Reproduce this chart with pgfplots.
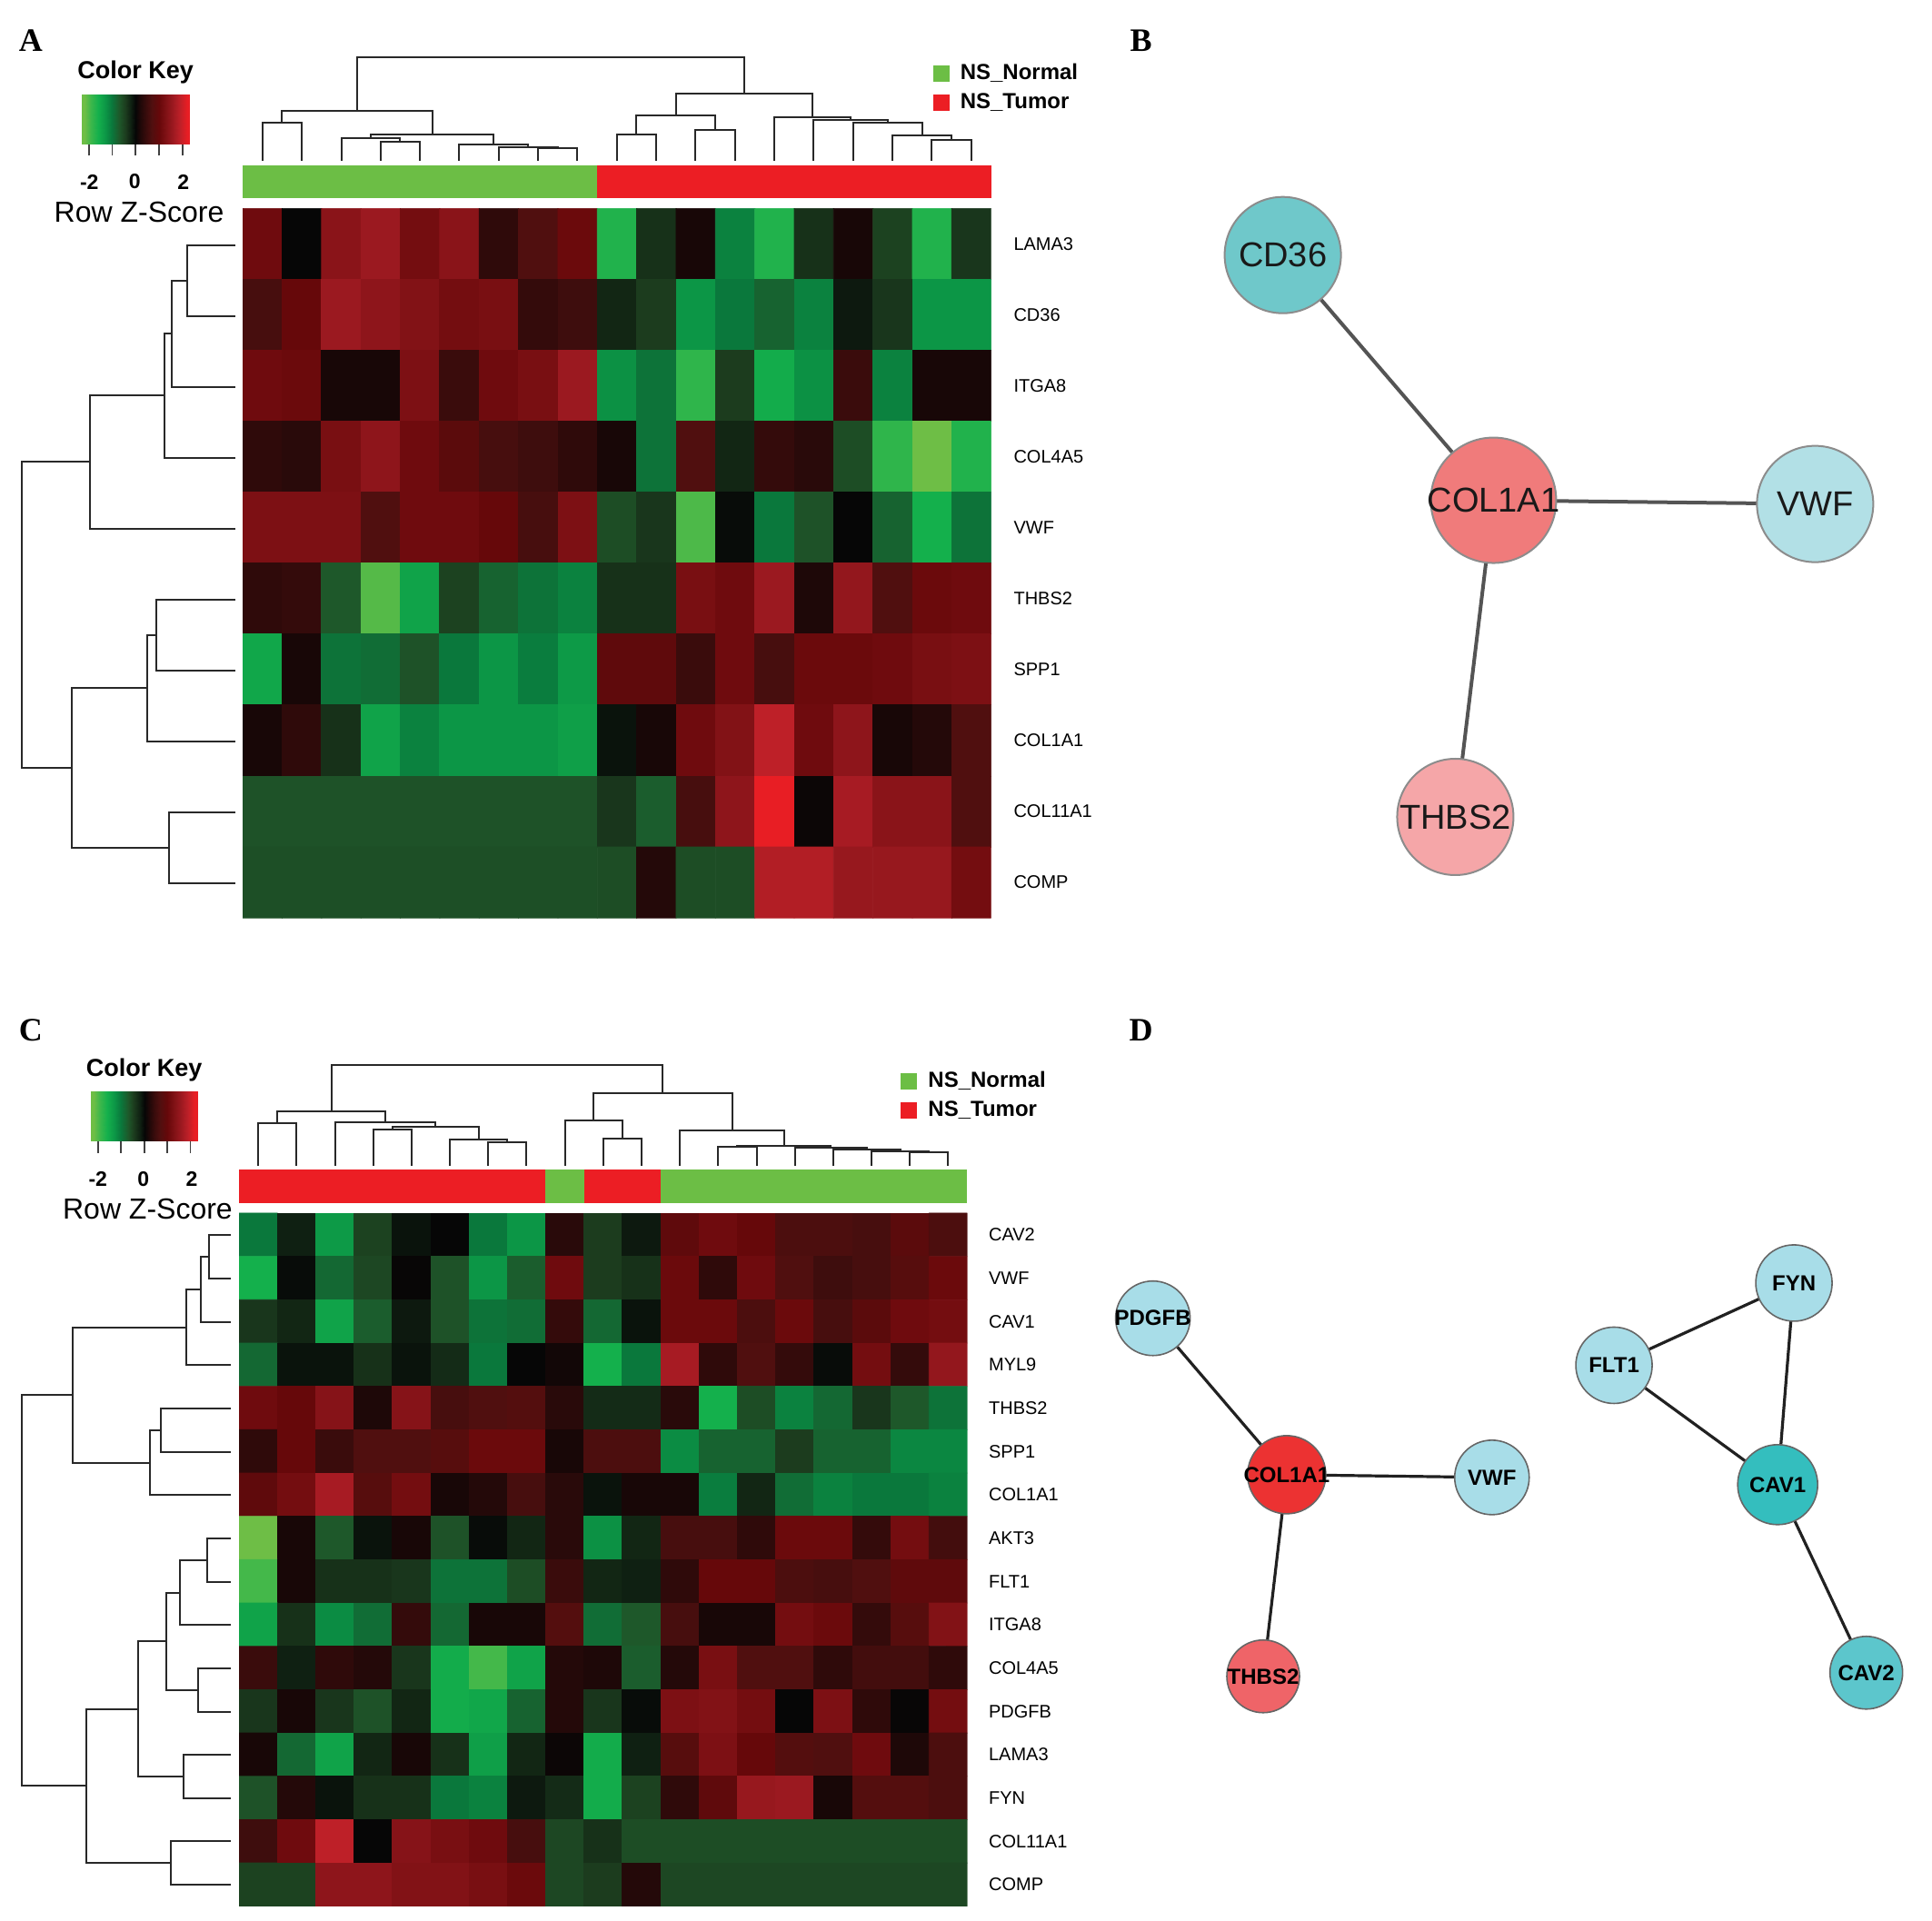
\documentclass[border=0pt]{standalone}
\usepackage{pgfplots}
\pgfplotsset{compat=1.18}
\usepackage{fontspec}
\setmainfont{Liberation Sans}
\newfontfamily\panelfont{Liberation Serif}
\newcommand\fs[1]{\fontsize{#1}{#1}\selectfont}

\definecolor{nsgreen}{RGB}{108,190,69}
\definecolor{nsred}{RGB}{236,30,36}
\definecolor{dendro}{RGB}{40,40,40}
\definecolor{bcd}{RGB}{111,200,202}
\definecolor{bcol}{RGB}{240,123,123}
\definecolor{bvwf}{RGB}{178,224,230}
\definecolor{bthbs}{RGB}{245,166,168}
\definecolor{dlight}{RGB}{168,221,232}
\definecolor{dcol}{RGB}{236,50,50}
\definecolor{dthbs}{RGB}{239,100,104}
\definecolor{dcav1}{RGB}{52,190,190}
\definecolor{dcav2}{RGB}{92,198,204}

% green - black - red, positions = (z+2.2)*10
\pgfplotsset{
  colormap={zkey}{rgb255(0pt)=(110,190,70) rgb255(3pt)=(60,183,75) rgb255(6pt)=(20,176,76)
    rgb255(9pt)=(12,150,70) rgb255(12pt)=(10,120,60) rgb255(15pt)=(30,88,42)
    rgb255(17.5pt)=(28,60,30) rgb255(20pt)=(15,32,18) rgb255(22pt)=(6,6,6)
    rgb255(24pt)=(30,8,8) rgb255(26.5pt)=(58,12,12) rgb255(29pt)=(80,15,15)
    rgb255(32pt)=(102,8,10) rgb255(35pt)=(130,18,22) rgb255(38pt)=(155,25,32)
    rgb255(41pt)=(190,32,40) rgb255(44pt)=(232,30,36)},
  canvas/.style={at={(0,0)}, anchor=south west, width=1063pt, height=1057pt,
    scale only axis, xmin=0, xmax=2136.68, ymin=0, ymax=2124.62, y dir=reverse,
    hide axis, clip=false},
  dend/.style={draw=dendro, line width=1pt, no marks, unbounded coords=jump},
  heat/.style={anchor=north west, scale only axis, enlargelimits=false,
    xmin=0.5, xmax=19.5, ymin=0.5, y dir=reverse,
    axis line style={draw=none}, major tick length=0pt, xtick=\empty,
    yticklabel pos=right, ytick pos=right,
    yticklabel style={anchor=west, inner sep=0pt, font=\fs{10}},
    colormap name=zkey, point meta min=-2.2, point meta max=2.2},
  key/.style={anchor=north west, scale only axis, enlargelimits=false,
    xmin=-2.3, xmax=2.3, ymin=0, ymax=1, axis line style={draw=none},
    ytick=\empty, xtick={-2,-1,0,1,2}, xticklabels={}, xticklabel style={opacity=0},
    xtick pos=left, tick align=outside, major tick length=6.5pt,
    major tick style={draw=black!75, line width=0.9pt},
    colormap name=zkey, point meta min=-2.2, point meta max=2.2},
  edgeB/.style={draw=black!67, line width=2pt, no marks, unbounded coords=jump},
  edgeD/.style={draw=black!87, line width=1.6pt, no marks, unbounded coords=jump},
}

\begin{document}
\begin{tikzpicture}
\useasboundingbox (0,0) rectangle (1063pt,1057pt);

\begin{axis}[canvas]
% ---- panel A: dendrograms
\addplot[dend] coordinates {
(290.3,177.6) (290.3,135.8) (333.8,135.8) (333.8,177.6) (nan,nan)
(420.9,177.6) (420.9,157.0) (464.5,157.0) (464.5,177.6) (nan,nan)
(377.4,177.6) (377.4,152.8) (442.7,152.8) (442.7,157.0) (nan,nan)
(595.1,177.6) (595.1,164.1) (638.6,164.1) (638.6,177.6) (nan,nan)
(551.5,177.6) (551.5,162.5) (616.85,162.5) (616.85,164.1) (nan,nan)
(508.0,177.6) (508.0,159.9) (584.2,159.9) (584.2,162.5) (nan,nan)
(410.05,152.8) (410.05,148.6) (546.1,148.6) (546.1,159.9) (nan,nan)
(312.05,135.8) (312.05,122.2) (478.1,122.2) (478.1,148.6) (nan,nan)
(682.2,177.6) (682.2,149.0) (725.7,149.0) (725.7,177.6) (nan,nan)
(769.2,177.6) (769.2,144.0) (812.8,144.0) (812.8,177.6) (nan,nan)
(703.95,149.0) (703.95,128.0) (791.0,128.0) (791.0,144.0) (nan,nan)
(1030.5,177.6) (1030.5,155.1) (1074.0,155.1) (1074.0,177.6) (nan,nan)
(986.9,177.6) (986.9,150.0) (1052.25,150.0) (1052.25,155.1) (nan,nan)
(943.4,177.6) (943.4,135.2) (1019.6,135.2) (1019.6,150.0) (nan,nan)
(899.9,177.6) (899.9,132.4) (981.5,132.4) (981.5,135.2) (nan,nan)
(856.3,177.6) (856.3,130.0) (940.7,130.0) (940.7,132.4) (nan,nan)
(747.5,128.0) (747.5,103.8) (898.5,103.8) (898.5,130.0) (nan,nan)
(395.1,122.2) (395.1,63.0) (823.0,63.0) (823.0,103.8)};
\addplot[dend] coordinates {
(260.3,270.9) (207.4,270.9) (207.4,349.3) (260.3,349.3) (nan,nan)
(207.4,310.1) (189.7,310.1) (189.7,427.7) (260.3,427.7) (nan,nan)
(189.7,368.9) (182.4,368.9) (182.4,506.1) (260.3,506.1) (nan,nan)
(182.4,437.5) (99.7,437.5) (99.7,584.5) (260.3,584.5) (nan,nan)
(260.3,662.9) (173.3,662.9) (173.3,741.3) (260.3,741.3) (nan,nan)
(173.3,702.1) (163.0,702.1) (163.0,819.7) (260.3,819.7) (nan,nan)
(260.3,898.1) (187.4,898.1) (187.4,976.5) (260.3,976.5) (nan,nan)
(163.0,760.9) (79.3,760.9) (79.3,937.3) (187.4,937.3) (nan,nan)
(99.7,511.0) (24.5,511.0) (24.5,849.1) (79.3,849.1)};
% class bar A
\addplot[fill=nsgreen, draw=none] coordinates {(268.5,182.6) (660.4,182.6) (660.4,218.8) (268.5,218.8)} --cycle;
\addplot[fill=nsred, draw=none] coordinates {(660.4,182.6) (1096.2,182.6) (1096.2,218.8) (660.4,218.8)} --cycle;
% legend A
\addplot[only marks, mark=square*, mark size=4.25pt, color=nsgreen] coordinates {(1040.7,80.9)};
\addplot[only marks, mark=square*, mark size=4.25pt, color=nsred] coordinates {(1040.7,113.1)};
\node[anchor=west, font=\bfseries\fs{12}] at (axis cs:1055,80.9) {NS\_Normal};
\node[anchor=west, font=\bfseries\fs{12}] at (axis cs:1055,113.1) {NS\_Tumor};
% key A texts
\node[font=\bfseries\fs{13.5}] at (axis cs:150,80.4) {Color Key};
\node[font=\bfseries\fs{11.5}] at (axis cs:98.8,201) {-2};
\node[font=\bfseries\fs{11.5}] at (axis cs:149,201) {0};
\node[font=\bfseries\fs{11.5}] at (axis cs:202.7,201) {2};
\node[font=\fs{16}] at (axis cs:153.8,234.5) {Row Z-Score};

% ---- panel C: dendrograms
\addplot[dend] coordinates {
(285.6,1289) (285.6,1242.6) (328.0,1242.6) (328.0,1289) (nan,nan)
(412.8,1289) (412.8,1249.3) (455.2,1249.3) (455.2,1289) (nan,nan)
(540.0,1289) (540.0,1263.4) (582.3,1263.4) (582.3,1289) (nan,nan)
(497.6,1289) (497.6,1260.0) (561.15,1260.0) (561.15,1263.4) (nan,nan)
(434.0,1249.3) (434.0,1246.0) (529.4,1246.0) (529.4,1260.0) (nan,nan)
(370.4,1289) (370.4,1240.9) (481.7,1240.9) (481.7,1246.0) (nan,nan)
(306.8,1242.6) (306.8,1229.2) (426.05,1229.2) (426.05,1240.9) (nan,nan)
(667.1,1289) (667.1,1259.6) (709.5,1259.6) (709.5,1289) (nan,nan)
(624.7,1289) (624.7,1238.9) (688.3,1238.9) (688.3,1259.6) (nan,nan)
(794.3,1289) (794.3,1268.8) (836.7,1268.8) (836.7,1289) (nan,nan)
(1006.3,1289) (1006.3,1274.7) (1048.6,1274.7) (1048.6,1289) (nan,nan)
(963.9,1289) (963.9,1273.7) (1027.45,1273.7) (1027.45,1274.7) (nan,nan)
(921.5,1289) (921.5,1271.4) (995.7,1271.4) (995.7,1273.7) (nan,nan)
(879.1,1289) (879.1,1269.3) (958.6,1269.3) (958.6,1271.4) (nan,nan)
(815.5,1268.8) (815.5,1267.3) (918.85,1267.3) (918.85,1269.3) (nan,nan)
(751.9,1289) (751.9,1250.6) (867.2,1250.6) (867.2,1267.3) (nan,nan)
(656.5,1238.9) (656.5,1209.3) (809.55,1209.3) (809.55,1250.6) (nan,nan)
(366.4,1229.2) (366.4,1177.6) (733.0,1177.6) (733.0,1209.3)};
\addplot[dend] coordinates {
(254.8,1366.3) (231.3,1366.3) (231.3,1414.2) (254.8,1414.2) (nan,nan)
(231.3,1390.25) (222.2,1390.25) (222.2,1462.1) (254.8,1462.1) (nan,nan)
(222.2,1426.2) (206.1,1426.2) (206.1,1510.0) (254.8,1510.0) (nan,nan)
(254.8,1557.8) (177.5,1557.8) (177.5,1605.7) (254.8,1605.7) (nan,nan)
(177.5,1581.75) (165.7,1581.75) (165.7,1653.6) (254.8,1653.6) (nan,nan)
(206.1,1468.1) (80.0,1468.1) (80.0,1617.7) (165.7,1617.7) (nan,nan)
(254.8,1701.5) (228.9,1701.5) (228.9,1749.3) (254.8,1749.3) (nan,nan)
(228.9,1725.4) (199.3,1725.4) (199.3,1797.2) (254.8,1797.2) (nan,nan)
(254.8,1845.1) (218.9,1845.1) (218.9,1893.0) (254.8,1893.0) (nan,nan)
(199.3,1761.3) (184.2,1761.3) (184.2,1869.05) (218.9,1869.05) (nan,nan)
(254.8,1940.8) (202.7,1940.8) (202.7,1988.7) (254.8,1988.7) (nan,nan)
(184.2,1815.2) (152.3,1815.2) (152.3,1964.75) (202.7,1964.75) (nan,nan)
(254.8,2036.6) (189.3,2036.6) (189.3,2084.4) (254.8,2084.4) (nan,nan)
(152.3,1890.0) (95.1,1890.0) (95.1,2060.5) (189.3,2060.5) (nan,nan)
(80.0,1542.9) (24.5,1542.9) (24.5,1975.25) (95.1,1975.25)};
% class bar C
\addplot[fill=nsred, draw=none] coordinates {(264.4,1293.8) (603.5,1293.8) (603.5,1330.7) (264.4,1330.7)} --cycle;
\addplot[fill=nsgreen, draw=none] coordinates {(603.5,1293.8) (645.9,1293.8) (645.9,1330.7) (603.5,1330.7)} --cycle;
\addplot[fill=nsred, draw=none] coordinates {(645.9,1293.8) (730.7,1293.8) (730.7,1330.7) (645.9,1330.7)} --cycle;
\addplot[fill=nsgreen, draw=none] coordinates {(730.7,1293.8) (1069.8,1293.8) (1069.8,1330.7) (730.7,1330.7)} --cycle;
% legend C
\addplot[only marks, mark=square*, mark size=4.25pt, color=nsgreen] coordinates {(1004.8,1195.7)};
\addplot[only marks, mark=square*, mark size=4.25pt, color=nsred] coordinates {(1004.8,1227.8)};
\node[anchor=west, font=\bfseries\fs{12}] at (axis cs:1019.5,1195.7) {NS\_Normal};
\node[anchor=west, font=\bfseries\fs{12}] at (axis cs:1019.5,1227.8) {NS\_Tumor};
% key C texts
\node[font=\bfseries\fs{13.5}] at (axis cs:159.5,1183) {Color Key};
\node[font=\bfseries\fs{11.5}] at (axis cs:108.3,1303.6) {-2};
\node[font=\bfseries\fs{11.5}] at (axis cs:158.5,1303.6) {0};
\node[font=\bfseries\fs{11.5}] at (axis cs:212.2,1303.6) {2};
\node[font=\fs{16}] at (axis cs:163.3,1337.1) {Row Z-Score};

% ---- panel letters
\node[font=\panelfont\bfseries\fs{18}] at (axis cs:34,45) {A};
\node[font=\panelfont\bfseries\fs{18}] at (axis cs:1262,45) {B};
\node[font=\panelfont\bfseries\fs{18}] at (axis cs:34,1139) {C};
\node[font=\panelfont\bfseries\fs{18}] at (axis cs:1262,1139) {D};

% ---- panel B network
\addplot[edgeB] coordinates {(1418.7,282.1) (1651.7,553.3) (nan,nan)
  (1651.7,553.3) (2007.4,557.4) (nan,nan) (1651.7,553.3) (1609.5,903.5)};
\addplot[only marks, mark=*, mark size=32pt, mark options={fill=bcd, draw=black!45, line width=1pt}] coordinates {(1418.7,282.1)};
\addplot[only marks, mark=*, mark size=34.5pt, mark options={fill=bcol, draw=black!45, line width=1pt}] coordinates {(1651.7,553.3)};
\addplot[only marks, mark=*, mark size=32pt, mark options={fill=bvwf, draw=black!45, line width=1pt}] coordinates {(2007.4,557.4)};
\addplot[only marks, mark=*, mark size=32pt, mark options={fill=bthbs, draw=black!45, line width=1pt}] coordinates {(1609.5,903.5)};

% ---- panel D network
\addplot[edgeD] coordinates {(1275,1458) (1423,1631) (nan,nan)
  (1423,1631) (1650,1634) (nan,nan) (1423,1631) (1397,1854) (nan,nan)
  (1785,1510) (1984,1419) (nan,nan) (1785,1510) (1966,1642) (nan,nan)
  (1984,1419) (1966,1642) (nan,nan) (1966,1642) (2064,1850)};
\addplot[only marks, mark=*, mark size=20.5pt, mark options={fill=dlight, draw=black!60, line width=0.8pt}] coordinates {(1275,1458) (1650,1634)};
\addplot[only marks, mark=*, mark size=21pt, mark options={fill=dlight, draw=black!60, line width=0.8pt}] coordinates {(1984,1419) (1785,1510)};
\addplot[only marks, mark=*, mark size=21.5pt, mark options={fill=dcol, draw=black!60, line width=0.8pt}] coordinates {(1423,1631)};
\addplot[only marks, mark=*, mark size=20pt, mark options={fill=dthbs, draw=black!60, line width=0.8pt}] coordinates {(1397,1854)};
\addplot[only marks, mark=*, mark size=22pt, mark options={fill=dcav1, draw=black!60, line width=0.8pt}] coordinates {(1966,1642)};
\addplot[only marks, mark=*, mark size=20pt, mark options={fill=dcav2, draw=black!60, line width=0.8pt}] coordinates {(2064,1850)};
\end{axis}

% ---- network labels, above the node marks
\begin{axis}[canvas]
\node[font=\fs{19}, text=black!90] at (axis cs:1418.7,282.1) {CD36};
\node[font=\fs{19}, text=black!90] at (axis cs:1651.7,553.3) {COL1A1};
\node[font=\fs{19}, text=black!90] at (axis cs:2007.4,557.4) {VWF};
\node[font=\fs{19}, text=black!90] at (axis cs:1609.5,903.5) {THBS2};
\node[font=\bfseries\fs{12}] at (axis cs:1275,1458) {PDGFB};
\node[font=\bfseries\fs{12}] at (axis cs:1423,1631) {COL1A1};
\node[font=\bfseries\fs{12}] at (axis cs:1650,1634) {VWF};
\node[font=\bfseries\fs{12}] at (axis cs:1397,1854) {THBS2};
\node[font=\bfseries\fs{12}] at (axis cs:1984,1419) {FYN};
\node[font=\bfseries\fs{12}] at (axis cs:1785,1510) {FLT1};
\node[font=\bfseries\fs{12}] at (axis cs:1966,1642) {CAV1};
\node[font=\bfseries\fs{12}] at (axis cs:2064,1850) {CAV2};
\end{axis}

% ---- colour keys
\begin{axis}[key, at={(45.02pt,1004.86pt)}, width=59.15pt, height=27.01pt]
\addplot[surf, shader=interp, point meta=x, mesh/rows=2] coordinates {
(-2.3,0) (-2.2,0) (-1.9,0) (-1.6,0) (-1.3,0) (-1.0,0) (-0.7,0) (-0.45,0) (-0.2,0) (0,0) (0.2,0) (0.45,0) (0.7,0) (1.0,0) (1.3,0) (1.6,0) (1.9,0) (2.2,0) (2.3,0)
(-2.3,1) (-2.2,1) (-1.9,1) (-1.6,1) (-1.3,1) (-1.0,1) (-0.7,1) (-0.45,1) (-0.2,1) (0,1) (0.2,1) (0.45,1) (0.7,1) (1.0,1) (1.3,1) (1.6,1) (1.9,1) (2.2,1) (2.3,1)};
\end{axis}
\begin{axis}[key, at={(50.15pt,456.32pt)}, width=58.36pt, height=27.1pt]
\addplot[surf, shader=interp, point meta=x, mesh/rows=2] coordinates {
(-2.3,0) (-2.2,0) (-1.9,0) (-1.6,0) (-1.3,0) (-1.0,0) (-0.7,0) (-0.45,0) (-0.2,0) (0,0) (0.2,0) (0.45,0) (0.7,0) (1.0,0) (1.3,0) (1.6,0) (1.9,0) (2.2,0) (2.3,0)
(-2.3,1) (-2.2,1) (-1.9,1) (-1.6,1) (-1.3,1) (-1.0,1) (-0.7,1) (-0.45,1) (-0.2,1) (0,1) (0.2,1) (0.45,1) (0.7,1) (1.0,1) (1.3,1) (1.6,1) (1.9,1) (2.2,1) (2.3,1)};
\end{axis}

% ---- heatmap A
\begin{axis}[heat, at={(133.58pt,942.33pt)}, width=411.78pt, height=390.4pt, ymax=10.5,
  ytick={1,...,10}, yticklabels={LAMA3,CD36,ITGA8,COL4A5,VWF,THBS2,SPP1,COL1A1,COL11A1,COMP},
  yticklabel style={xshift=12.2pt}]
\addplot[matrix plot*, point meta=explicit, mesh/cols=19] coordinates {
(1,1)[1.1] (2,1)[0] (3,1)[1.4] (4,1)[1.6] (5,1)[1.15] (6,1)[1.4] (7,1)[0.35] (8,1)[0.7] (9,1)[1.05] (10,1)[-1.7] (11,1)[-0.35] (12,1)[0.15] (13,1)[-1.1] (14,1)[-1.7] (15,1)[-0.35] (16,1)[0.15] (17,1)[-0.5] (18,1)[-1.7] (19,1)[-0.4]
(1,2)[0.6] (2,2)[1.0] (3,2)[1.6] (4,2)[1.45] (5,2)[1.3] (6,2)[1.15] (7,2)[1.2] (8,2)[0.4] (9,2)[0.5] (10,2)[-0.25] (11,2)[-0.45] (12,2)[-1.3] (13,2)[-1.0] (14,2)[-0.8] (15,2)[-1.1] (16,2)[-0.15] (17,2)[-0.4] (18,2)[-1.3] (19,2)[-1.3]
(1,3)[1.1] (2,3)[1.05] (3,3)[0.15] (4,3)[0.15] (5,3)[1.25] (6,3)[0.45] (7,3)[1.1] (8,3)[1.2] (9,3)[1.6] (10,3)[-1.25] (11,3)[-0.95] (12,3)[-1.8] (13,3)[-0.45] (14,3)[-1.55] (15,3)[-1.25] (16,3)[0.45] (17,3)[-1.1] (18,3)[0.15] (19,3)[0.15]
(1,4)[0.35] (2,4)[0.3] (3,4)[1.2] (4,4)[1.45] (5,4)[1.1] (6,4)[0.85] (7,4)[0.6] (8,4)[0.5] (9,4)[0.35] (10,4)[0.15] (11,4)[-0.95] (12,4)[0.7] (13,4)[-0.25] (14,4)[0.4] (15,4)[0.3] (16,4)[-0.6] (17,4)[-1.8] (18,4)[-2.2] (19,4)[-1.7]
(1,5)[1.25] (2,5)[1.25] (3,5)[1.25] (4,5)[0.7] (5,5)[1.1] (6,5)[1.1] (7,5)[1.0] (8,5)[0.6] (9,5)[1.25] (10,5)[-0.6] (11,5)[-0.4] (12,5)[-2.0] (13,5)[-0.05] (14,5)[-1.0] (15,5)[-0.65] (16,5)[0] (17,5)[-0.8] (18,5)[-1.6] (19,5)[-0.95]
(1,6)[0.35] (2,6)[0.4] (3,6)[-0.7] (4,6)[-2.05] (5,6)[-1.45] (6,6)[-0.5] (7,6)[-0.8] (8,6)[-0.95] (9,6)[-1.1] (10,6)[-0.35] (11,6)[-0.35] (12,6)[1.2] (13,6)[1.1] (14,6)[1.6] (15,6)[0.2] (16,6)[1.5] (17,6)[0.7] (18,6)[1.05] (19,6)[1.1]
(1,7)[-1.5] (2,7)[0.15] (3,7)[-0.95] (4,7)[-0.9] (5,7)[-0.65] (6,7)[-1.0] (7,7)[-1.3] (8,7)[-1.05] (9,7)[-1.35] (10,7)[0.9] (11,7)[0.9] (12,7)[0.45] (13,7)[1.1] (14,7)[0.6] (15,7)[1.05] (16,7)[1.05] (17,7)[1.1] (18,7)[1.2] (19,7)[1.25]
(1,8)[0.15] (2,8)[0.35] (3,8)[-0.35] (4,8)[-1.45] (5,8)[-1.1] (6,8)[-1.3] (7,8)[-1.3] (8,8)[-1.3] (9,8)[-1.4] (10,8)[-0.1] (11,8)[0.15] (12,8)[1.1] (13,8)[1.3] (14,8)[1.9] (15,8)[1.1] (16,8)[1.45] (17,8)[0.15] (18,8)[0.25] (19,8)[0.7]
(1,9)[-0.65] (2,9)[-0.65] (3,9)[-0.65] (4,9)[-0.65] (5,9)[-0.65] (6,9)[-0.65] (7,9)[-0.65] (8,9)[-0.65] (9,9)[-0.65] (10,9)[-0.4] (11,9)[-0.75] (12,9)[0.6] (13,9)[1.45] (14,9)[2.2] (15,9)[0.05] (16,9)[1.7] (17,9)[1.4] (18,9)[1.4] (19,9)[0.7]
(1,10)[-0.62] (2,10)[-0.62] (3,10)[-0.62] (4,10)[-0.62] (5,10)[-0.62] (6,10)[-0.62] (7,10)[-0.62] (8,10)[-0.62] (9,10)[-0.62] (10,10)[-0.6] (11,10)[0.25] (12,10)[-0.6] (13,10)[-0.6] (14,10)[1.8] (15,10)[1.8] (16,10)[1.55] (17,10)[1.55] (18,10)[1.55] (19,10)[1.15]
};
\end{axis}

% ---- heatmap C
\begin{axis}[heat, at={(131.54pt,389.5pt)}, width=400.7pt, height=381.4pt, ymax=16.5,
  ytick={1,...,16}, yticklabels={CAV2,VWF,CAV1,MYL9,THBS2,SPP1,COL1A1,AKT3,FLT1,ITGA8,COL4A5,PDGFB,LAMA3,FYN,COL11A1,COMP},
  yticklabel style={xshift=11.6pt}]
\addplot[matrix plot*, point meta=explicit, mesh/cols=19] coordinates {
(1,1)[-1.0] (2,1)[-0.2] (3,1)[-1.35] (4,1)[-0.5] (5,1)[-0.1] (6,1)[0] (7,1)[-1.0] (8,1)[-1.3] (9,1)[0.3] (10,1)[-0.45] (11,1)[-0.15] (12,1)[0.9] (13,1)[1.1] (14,1)[1.0] (15,1)[0.65] (16,1)[0.65] (17,1)[0.6] (18,1)[0.85] (19,1)[0.65]
(1,2)[-1.6] (2,2)[-0.05] (3,2)[-0.85] (4,2)[-0.55] (5,2)[0.02] (6,2)[-0.65] (7,2)[-1.3] (8,2)[-0.75] (9,2)[1.1] (10,2)[-0.45] (11,2)[-0.35] (12,2)[1.05] (13,2)[0.35] (14,2)[1.1] (15,2)[0.7] (16,2)[0.5] (17,2)[0.6] (18,2)[0.8] (19,2)[1.05]
(1,3)[-0.4] (2,3)[-0.25] (3,3)[-1.45] (4,3)[-0.75] (5,3)[-0.15] (6,3)[-0.65] (7,3)[-0.95] (8,3)[-0.9] (9,3)[0.4] (10,3)[-0.85] (11,3)[-0.1] (12,3)[1.05] (13,3)[1.05] (14,3)[0.65] (15,3)[1.05] (16,3)[0.6] (17,3)[0.85] (18,3)[1.1] (19,3)[1.15]
(1,4)[-0.85] (2,4)[-0.1] (3,4)[-0.1] (4,4)[-0.35] (5,4)[-0.1] (6,4)[-0.3] (7,4)[-1.0] (8,4)[0] (9,4)[0.1] (10,4)[-1.6] (11,4)[-1.0] (12,4)[1.7] (13,4)[0.35] (14,4)[0.7] (15,4)[0.4] (16,4)[-0.05] (17,4)[1.15] (18,4)[0.4] (19,4)[1.5]
(1,5)[1.1] (2,5)[1.0] (3,5)[1.35] (4,5)[0.2] (5,5)[1.35] (6,5)[0.6] (7,5)[0.7] (8,5)[0.75] (9,5)[0.3] (10,5)[-0.3] (11,5)[-0.3] (12,5)[0.3] (13,5)[-1.6] (14,5)[-0.6] (15,5)[-1.1] (16,5)[-0.85] (17,5)[-0.4] (18,5)[-0.7] (19,5)[-0.95]
(1,6)[0.35] (2,6)[1.0] (3,6)[0.45] (4,6)[0.7] (5,6)[0.7] (6,6)[0.8] (7,6)[1.05] (8,6)[1.05] (9,6)[0.15] (10,6)[0.65] (11,6)[0.65] (12,6)[-1.2] (13,6)[-0.8] (14,6)[-0.8] (15,6)[-0.45] (16,6)[-0.8] (17,6)[-0.8] (18,6)[-1.15] (19,6)[-1.15]
(1,7)[0.9] (2,7)[1.15] (3,7)[1.7] (4,7)[0.8] (5,7)[1.15] (6,7)[0.15] (7,7)[0.25] (8,7)[0.6] (9,7)[0.3] (10,7)[-0.1] (11,7)[0.15] (12,7)[0.15] (13,7)[-1.05] (14,7)[-0.25] (15,7)[-0.9] (16,7)[-1.1] (17,7)[-1.0] (18,7)[-1.0] (19,7)[-1.1]
(1,8)[-2.2] (2,8)[0.15] (3,8)[-0.7] (4,8)[-0.1] (5,8)[0.15] (6,8)[-0.65] (7,8)[-0.05] (8,8)[-0.25] (9,8)[0.3] (10,8)[-1.25] (11,8)[-0.25] (12,8)[0.6] (13,8)[0.6] (14,8)[0.35] (15,8)[1.05] (16,8)[1.05] (17,8)[0.4] (18,8)[1.15] (19,8)[0.55]
(1,9)[-1.95] (2,9)[0.15] (3,9)[-0.35] (4,9)[-0.35] (5,9)[-0.4] (6,9)[-0.95] (7,9)[-0.95] (8,9)[-0.6] (9,9)[0.45] (10,9)[-0.25] (11,9)[-0.2] (12,9)[0.35] (13,9)[1.0] (14,9)[1.0] (15,9)[0.65] (16,9)[0.6] (17,9)[0.7] (18,9)[0.9] (19,9)[0.9]
(1,10)[-1.45] (2,10)[-0.35] (3,10)[-1.2] (4,10)[-0.9] (5,10)[0.4] (6,10)[-0.85] (7,10)[0.15] (8,10)[0.15] (9,10)[0.75] (10,10)[-0.9] (11,10)[-0.7] (12,10)[0.6] (13,10)[0.15] (14,10)[0.15] (15,10)[1.15] (16,10)[1.05] (17,10)[0.4] (18,10)[0.8] (19,10)[1.3]
(1,11)[0.45] (2,11)[-0.2] (3,11)[0.35] (4,11)[0.25] (5,11)[-0.4] (6,11)[-1.55] (7,11)[-1.95] (8,11)[-1.45] (9,11)[0.25] (10,11)[0.2] (11,11)[-0.75] (12,11)[0.25] (13,11)[1.2] (14,11)[0.7] (15,11)[0.7] (16,11)[0.35] (17,11)[0.55] (18,11)[0.55] (19,11)[0.35]
(1,12)[-0.4] (2,12)[0.15] (3,12)[-0.4] (4,12)[-0.65] (5,12)[-0.25] (6,12)[-1.55] (7,12)[-1.5] (8,12)[-0.8] (9,12)[0.25] (10,12)[-0.4] (11,12)[-0.05] (12,12)[1.25] (13,12)[1.3] (14,12)[1.15] (15,12)[0] (16,12)[1.25] (17,12)[0.35] (18,12)[0.02] (19,12)[1.15]
(1,13)[0.15] (2,13)[-0.85] (3,13)[-1.45] (4,13)[-0.25] (5,13)[0.15] (6,13)[-0.35] (7,13)[-1.4] (8,13)[-0.25] (9,13)[0.05] (10,13)[-1.55] (11,13)[-0.2] (12,13)[0.8] (13,13)[1.25] (14,13)[1.0] (15,13)[0.75] (16,13)[0.7] (17,13)[1.1] (18,13)[0.2] (19,13)[0.65]
(1,14)[-0.65] (2,14)[0.25] (3,14)[-0.1] (4,14)[-0.35] (5,14)[-0.35] (6,14)[-1.0] (7,14)[-1.1] (8,14)[-0.15] (9,14)[-0.3] (10,14)[-1.55] (11,14)[-0.5] (12,14)[0.35] (13,14)[0.9] (14,14)[1.55] (15,14)[1.6] (16,14)[0.15] (17,14)[0.75] (18,14)[0.75] (19,14)[0.65]
(1,15)[0.5] (2,15)[1.1] (3,15)[1.9] (4,15)[0] (5,15)[1.35] (6,15)[1.2] (7,15)[1.1] (8,15)[0.6] (9,15)[-0.55] (10,15)[-0.35] (11,15)[-0.6] (12,15)[-0.6] (13,15)[-0.6] (14,15)[-0.6] (15,15)[-0.6] (16,15)[-0.6] (17,15)[-0.6] (18,15)[-0.6] (19,15)[-0.6]
(1,16)[-0.5] (2,16)[-0.5] (3,16)[1.45] (4,16)[1.45] (5,16)[1.3] (6,16)[1.3] (7,16)[1.2] (8,16)[1.05] (9,16)[-0.55] (10,16)[-0.45] (11,16)[0.25] (12,16)[-0.55] (13,16)[-0.55] (14,16)[-0.55] (15,16)[-0.55] (16,16)[-0.55] (17,16)[-0.55] (18,16)[-0.55] (19,16)[-0.55]
};
\end{axis}
\end{tikzpicture}
\end{document}
